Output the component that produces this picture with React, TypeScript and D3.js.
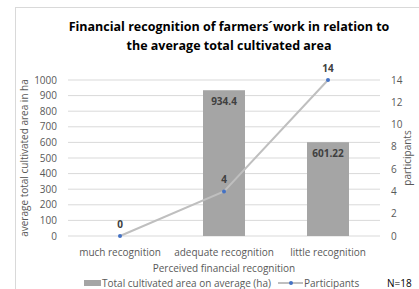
import * as d3 from 'd3'

const categories = ['much recognition', 'adequate recognition', 'little recognition']
const areaValues = [0, 934.4, 601.22]
const participants = [0, 4, 14]
const areaTicks = [0, 100, 200, 300, 400, 500, 600, 700, 800, 900, 1000]
const partTicks = [0, 2, 4, 6, 8, 10, 12, 14]

export default function App() {
  const width = 419
  const height = 289
  const left = 68
  const right = 380
  const top = 80
  const bottom = 236
  const font = '"Open Sans", sans-serif'
  const textCol = '#595959'

  const x = d3.scaleBand().domain(categories).range([left, right])
  const yArea = d3.scaleLinear().domain([0, 1000]).range([bottom, top])
  const yPart = d3.scaleLinear().domain([0, 14]).range([bottom, top])
  const barW = 42
  const cx = (c: string) => (x(c) ?? 0) + x.bandwidth() / 2

  const line = d3
    .line<number>()
    .x((_, i) => cx(categories[i]))
    .y((d) => yPart(d))

  return (
    <svg width={width} height={height} style={{ position: 'absolute', left: 0, top: 0 }} fontFamily={font}>
      <rect x={0} y={0} width={width} height={height} fill="#fff" />
      <rect x={15.5} y={7.5} width={420} height={300} fill="none" stroke="#d9d9d9" />
      <text x={229} y={31} textAnchor="middle" fontSize={12.5} fontWeight="bold" fill="#000">
        Financial recognition of farmers´work in relation to
      </text>
      <text x={229} y={50} textAnchor="middle" fontSize={12.5} fontWeight="bold" fill="#000">
        the average total cultivated area
      </text>
      {areaTicks.map((t) => (
        <g key={t}>
          <line x1={left} x2={right} y1={yArea(t)} y2={yArea(t)} stroke="#d9d9d9" />
          <text x={57} y={yArea(t) + 3.5} textAnchor="end" fontSize={10} fill={textCol}>
            {t}
          </text>
        </g>
      ))}
      {partTicks.map((t) => (
        <text key={t} x={391} y={yPart(t) + 3.5} fontSize={10} fill={textCol}>
          {t}
        </text>
      ))}
      {categories.map((c, i) =>
        areaValues[i] > 0 ? (
          <g key={c}>
            <rect x={cx(c) - barW / 2} y={yArea(areaValues[i])} width={barW} height={bottom - yArea(areaValues[i])} fill="#a5a5a5" />
            <text x={cx(c)} y={yArea(areaValues[i]) + 15} textAnchor="middle" fontSize={10} fontWeight="bold" fill="#404040">
              {areaValues[i]}
            </text>
          </g>
        ) : null,
      )}
      <path d={line(participants) ?? ''} fill="none" stroke="#bfbfbf" strokeWidth={2} />
      {participants.map((p, i) => (
        <g key={i}>
          <circle cx={cx(categories[i])} cy={yPart(p)} r={2} fill="#4472c4" />
          <text x={cx(categories[i])} y={yPart(p) - 8} textAnchor="middle" fontSize={10} fontWeight="bold" fill="#404040">
            {p}
          </text>
        </g>
      ))}
      {categories.map((c) => (
        <text key={c} x={cx(c)} y={256} textAnchor="middle" fontSize={10} fill={textCol}>
          {c}
        </text>
      ))}
      <text x={224} y={272} textAnchor="middle" fontSize={10} fill={textCol}>
        Perceived financial recognition
      </text>
      <text transform={`translate(28,${(top + bottom) / 2}) rotate(-90)`} textAnchor="middle" fontSize={10} fill={textCol}>
        average total cultivated area in ha
      </text>
      <text transform={`translate(411,158) rotate(-90)`} textAnchor="middle" fontSize={10} fill={textCol}>
        participants
      </text>
      <rect x={84} y={280} width={17} height={6} fill="#a5a5a5" />
      <text x={102} y={287} fontSize={10} fill={textCol}>
        Total cultivated area on average (ha)
      </text>
      <line x1={278} x2={303} y1={283} y2={283} stroke="#bfbfbf" strokeWidth={2} />
      <circle cx={291} cy={283} r={2} fill="#4472c4" />
      <text x={304} y={287} fontSize={10} fill={textCol}>
        Participants
      </text>
      <text x={387} y={287} fontSize={10} fill="#000">
        N=18
      </text>
    </svg>
  )
}
